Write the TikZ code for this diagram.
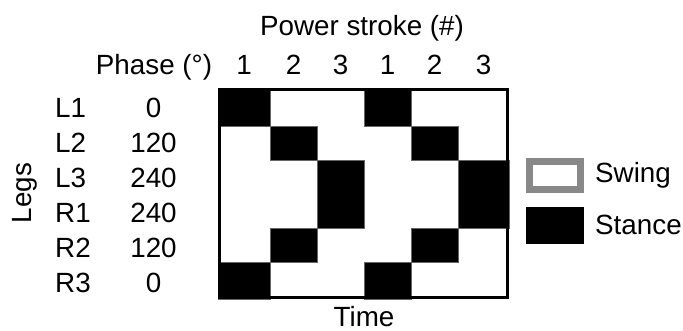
\documentclass[tikz,border=0pt]{standalone}
\usepackage{fontspec}
\setmainfont{Liberation Sans}
\definecolor{swinggray}{RGB}{136,136,136}
\begin{document}
\begin{tikzpicture}[x=1pt,y=-1pt,
  every node/.style={font=\fontsize{27.8}{33}\selectfont, inner sep=0pt},
  lbl/.style={anchor=base},
  rowlbl/.style={anchor=base west},
  stance/.style={fill=black, draw=black!60, line width=0.6pt},
  frame/.style={draw=black, line width=3pt},
  swingbox/.style={draw=swinggray, line width=7pt, fill=white}]
\useasboundingbox (0,0) rectangle (683,331);
% stance blocks
\path[stance] (218,88) rectangle (270,126);
\path[stance] (364,88) rectangle (411,126);
\path[stance] (270,126) rectangle (317,160);
\path[stance] (411,126) rectangle (458,160);
\path[stance] (317,160) rectangle (364,228);
\path[stance] (458,160) rectangle (509,228);
\path[stance] (270,228) rectangle (317,262);
\path[stance] (411,228) rectangle (458,262);
\path[stance] (218,262) rectangle (270,299);
\path[stance] (364,262) rectangle (411,299);
% frame
\path[frame] (219.5,89.5) rectangle (507.5,297.5);
% headings
\node[lbl] (title) at (362,36) {Power stroke (\#)};
\node[lbl] (phase) at (154,75) {Phase (°)};
\node[lbl] (c1) at (244,75) {1};
\node[lbl] (c2) at (293.5,75) {2};
\node[lbl] (c3) at (340.5,75) {3};
\node[lbl] (c4) at (387.5,75) {1};
\node[lbl] (c5) at (434.5,75) {2};
\node[lbl] (c6) at (483.5,75) {3};
% rows
\node[rowlbl] (l1) at (55,118) {L1};
\node[rowlbl] (l2) at (55,153) {L2};
\node[rowlbl] (l3) at (55,188) {L3};
\node[rowlbl] (r1) at (55,223) {R1};
\node[rowlbl] (r2) at (55,258) {R2};
\node[rowlbl] (r3) at (55,293) {R3};
\node[lbl] (p1) at (153.5,118) {0};
\node[lbl] (p2) at (153.5,153) {120};
\node[lbl] (p3) at (153.5,188) {240};
\node[lbl] (p4) at (153.5,223) {240};
\node[lbl] (p5) at (153.5,258) {120};
\node[lbl] (p6) at (153.5,293) {0};
\node[lbl, rotate=90] (legs) at (31,193) {Legs};
\node[lbl] (time) at (364,326.5) {Time};
% legend
\path[swingbox] (529.5,161.5) rectangle (580.5,189.5);
\fill[black] (526,207) rectangle (584,244);
\node[rowlbl] (swing) at (595,183) {Swing};
\node[rowlbl] (stancelbl) at (595,235) {Stance};
\end{tikzpicture}
\end{document}
